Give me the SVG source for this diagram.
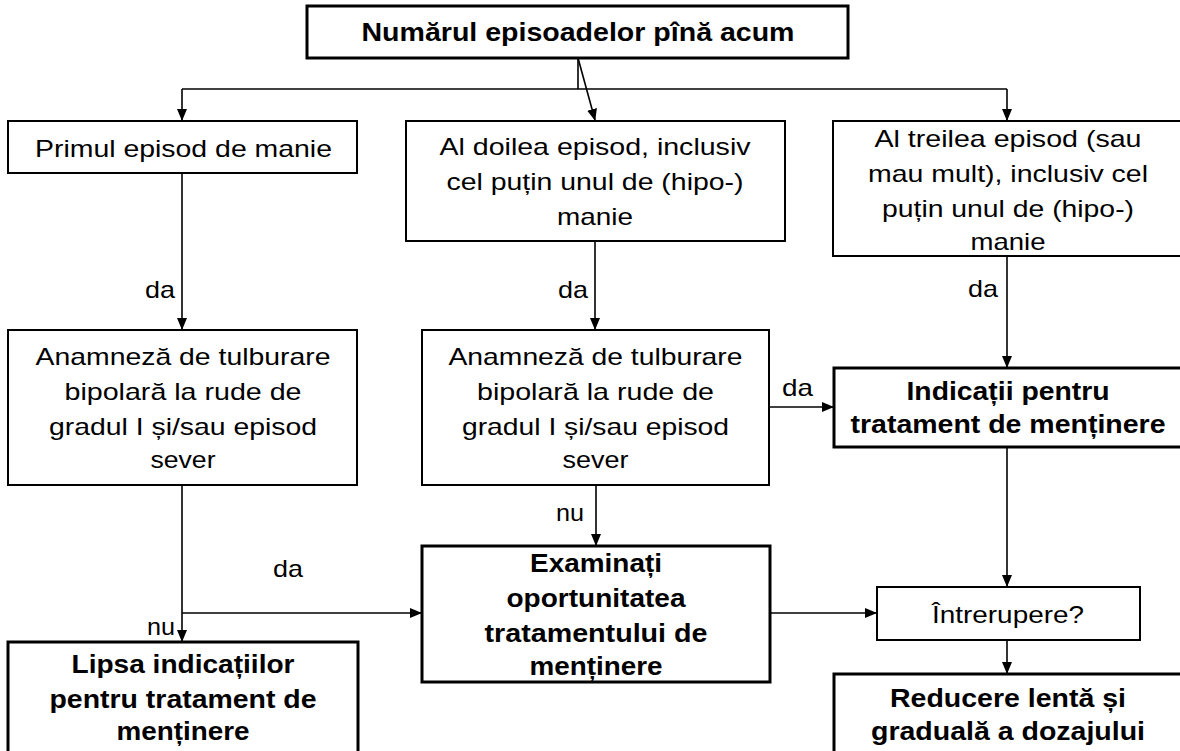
<svg xmlns="http://www.w3.org/2000/svg" width="1180" height="751" viewBox="0 0 1180 751">
  <style>
    .box { fill: #ffffff; stroke: #000000; stroke-width: 2; }
    .box-b { fill: #ffffff; stroke: #000000; stroke-width: 3; }
    .t { font-family: "Liberation Sans", Arial, sans-serif; font-size: 24px; fill: #000000; text-anchor: middle; }
    .tb { font-family: "Liberation Sans", Arial, sans-serif; font-size: 26px; font-weight: bold; fill: #000000; text-anchor: middle; }
    .lbl { font-family: "Liberation Sans", Arial, sans-serif; font-size: 24px; fill: #000000; }
    .edge { fill: none; stroke: #000000; stroke-width: 1.6; }
  </style>
  <defs>
    <marker id="arrow" markerUnits="userSpaceOnUse" markerWidth="12" markerHeight="10" refX="11" refY="5" orient="auto">
      <path d="M0,0 L12,5 L0,10 Z" fill="#000000"/>
    </marker>
  </defs>
  <rect width="1180" height="751" fill="#ffffff"/>

  <!-- connectors -->
  <g id="connectors">
    <path class="edge" d="M578,58 V89"/>
    <path class="edge" d="M182,89 H1007"/>
    <path class="edge" d="M182,89 V120" marker-end="url(#arrow)"/>
    <path class="edge" d="M1007,89 V120" marker-end="url(#arrow)"/>
    <path class="edge" d="M578,58 L595,120" marker-end="url(#arrow)"/>
    <path class="edge" d="M182,173 V329" marker-end="url(#arrow)"/>
    <path class="edge" d="M595,241 V329" marker-end="url(#arrow)"/>
    <path class="edge" d="M1007,256 V367" marker-end="url(#arrow)"/>
    <path class="edge" d="M182,485 V641" marker-end="url(#arrow)"/>
    <path class="edge" d="M182,613 H421" marker-end="url(#arrow)"/>
    <path class="edge" d="M596,485 V545" marker-end="url(#arrow)"/>
    <path class="edge" d="M769,407 H833" marker-end="url(#arrow)"/>
    <path class="edge" d="M770,613 H876" marker-end="url(#arrow)"/>
    <path class="edge" d="M1007,447 V586" marker-end="url(#arrow)"/>
    <path class="edge" d="M1007,640 V673" marker-end="url(#arrow)"/>
    <text class="lbl" x="145" y="298" textLength="30" lengthAdjust="spacingAndGlyphs">da</text>
    <text class="lbl" x="558" y="298" textLength="30" lengthAdjust="spacingAndGlyphs">da</text>
    <text class="lbl" x="968" y="297" textLength="30" lengthAdjust="spacingAndGlyphs">da</text>
    <text class="lbl" x="782" y="396" textLength="31" lengthAdjust="spacingAndGlyphs">da</text>
    <text class="lbl" x="273" y="577" textLength="30" lengthAdjust="spacingAndGlyphs">da</text>
    <text class="lbl" x="147" y="635" textLength="28" lengthAdjust="spacingAndGlyphs">nu</text>
    <text class="lbl" x="556" y="521" textLength="28" lengthAdjust="spacingAndGlyphs">nu</text>
  </g>

  <g id="node-episodes">
    <rect class="box-b" x="307" y="6" width="541" height="52"/>
    <text class="tb" x="578" y="41" textLength="433" lengthAdjust="spacingAndGlyphs">Numărul episoadelor pînă acum</text>
  </g>

  <g id="node-first">
    <rect class="box" x="8" y="121" width="349" height="52"/>
    <text class="t" x="183.5" y="157" textLength="297" lengthAdjust="spacingAndGlyphs">Primul episod de manie</text>
  </g>

  <g id="node-second">
    <rect class="box" x="406" y="121" width="379" height="120"/>
    <text class="t" x="595" y="155" textLength="311" lengthAdjust="spacingAndGlyphs">Al doilea episod, inclusiv</text>
    <text class="t" x="595" y="190" textLength="297" lengthAdjust="spacingAndGlyphs">cel puțin unul de (hipo-)</text>
    <text class="t" x="595" y="225" textLength="76" lengthAdjust="spacingAndGlyphs">manie</text>
  </g>

  <g id="node-third">
    <rect class="box" x="833" y="121" width="350" height="135"/>
    <text class="t" x="1008" y="147" textLength="267" lengthAdjust="spacingAndGlyphs">Al treilea episod (sau</text>
    <text class="t" x="1008" y="182" textLength="280" lengthAdjust="spacingAndGlyphs">mau mult), inclusiv cel</text>
    <text class="t" x="1008" y="217" textLength="252" lengthAdjust="spacingAndGlyphs">puțin unul de (hipo-)</text>
    <text class="t" x="1008" y="250" textLength="75" lengthAdjust="spacingAndGlyphs">manie</text>
  </g>

  <g id="node-history-left">
    <rect class="box" x="8" y="330" width="349" height="155"/>
    <text class="t" x="183" y="365" textLength="295" lengthAdjust="spacingAndGlyphs">Anamneză de tulburare</text>
    <text class="t" x="183" y="400" textLength="237" lengthAdjust="spacingAndGlyphs">bipolară la rude de</text>
    <text class="t" x="183" y="435" textLength="268" lengthAdjust="spacingAndGlyphs">gradul I și/sau episod</text>
    <text class="t" x="183" y="468" textLength="65" lengthAdjust="spacingAndGlyphs">sever</text>
  </g>

  <g id="node-history-middle">
    <rect class="box" x="422" y="330" width="347" height="155"/>
    <text class="t" x="595.5" y="365" textLength="294" lengthAdjust="spacingAndGlyphs">Anamneză de tulburare</text>
    <text class="t" x="595.5" y="400" textLength="237" lengthAdjust="spacingAndGlyphs">bipolară la rude de</text>
    <text class="t" x="595.5" y="435" textLength="267" lengthAdjust="spacingAndGlyphs">gradul I și/sau episod</text>
    <text class="t" x="595.5" y="468" textLength="66" lengthAdjust="spacingAndGlyphs">sever</text>
  </g>

  <g id="node-indicated">
    <rect class="box-b" x="834" y="368" width="350" height="79"/>
    <text class="tb" x="1008" y="400" textLength="203" lengthAdjust="spacingAndGlyphs">Indicații pentru</text>
    <text class="tb" x="1008" y="433" textLength="315" lengthAdjust="spacingAndGlyphs">tratament de menținere</text>
  </g>

  <g id="node-examine">
    <rect class="box-b" x="422" y="546" width="348" height="136"/>
    <text class="tb" x="596" y="572" textLength="132" lengthAdjust="spacingAndGlyphs">Examinați</text>
    <text class="tb" x="596" y="607" textLength="179" lengthAdjust="spacingAndGlyphs">oportunitatea</text>
    <text class="tb" x="596" y="642" textLength="223" lengthAdjust="spacingAndGlyphs">tratamentului de</text>
    <text class="tb" x="596" y="675" textLength="133" lengthAdjust="spacingAndGlyphs">menținere</text>
  </g>

  <g id="node-interrupt">
    <rect class="box" x="877" y="587" width="263" height="53"/>
    <text class="t" x="1008" y="623" textLength="152" lengthAdjust="spacingAndGlyphs">Întrerupere?</text>
  </g>

  <g id="node-no-indication">
    <rect class="box-b" x="8" y="642" width="350" height="120"/>
    <text class="tb" x="183" y="673" textLength="223" lengthAdjust="spacingAndGlyphs">Lipsa indicațiilor</text>
    <text class="tb" x="183" y="708" textLength="267" lengthAdjust="spacingAndGlyphs">pentru tratament de</text>
    <text class="tb" x="183" y="740" textLength="133" lengthAdjust="spacingAndGlyphs">menținere</text>
  </g>

  <g id="node-reduce">
    <rect class="box-b" x="834" y="674" width="350" height="90"/>
    <text class="tb" x="1008" y="707" textLength="236" lengthAdjust="spacingAndGlyphs">Reducere lentă și</text>
    <text class="tb" x="1008" y="740" textLength="274" lengthAdjust="spacingAndGlyphs">graduală a dozajului</text>
  </g>
</svg>
